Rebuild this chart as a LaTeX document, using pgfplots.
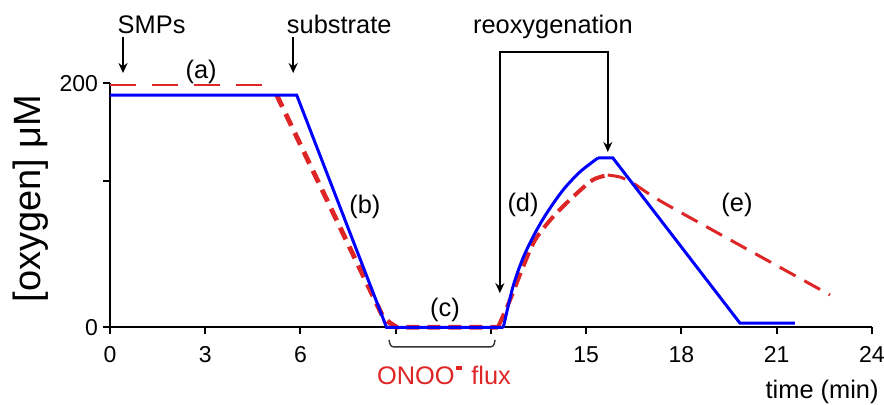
\documentclass[border=0pt]{standalone}
\usepackage{fontspec}
\setmainfont{Liberation Sans}
\usepackage{pgfplots}
\pgfplotsset{compat=1.18}
\usetikzlibrary{arrows.meta}

\definecolor{oxblue}{RGB}{0,0,255}
\definecolor{oxred}{RGB}{222,38,38}

% oxygen trace, control (solid blue): plateau, consumption, anoxia
\pgfplotstableread{
t     o2
0     190.4
5.88  190.4
8.71  0
12.39 0
}\controlfall
% control: reoxygenation and second consumption
\pgfplotstableread{
t     o2
12.39 0
12.69 33.0
13.01 56.8
13.39 77.3
13.76 93.7
14.27 112.5
14.80 127.3
15.37 138.8
}\controlrise
\pgfplotstableread{
t     o2
15.37 138.8
15.84 138.8
19.84 3.5
21.57 3.5
}\controldecay

% oxygen trace with ONOO- (dashed red), in four pieces
\pgfplotstableread{
t     o2
0     198.6
5.09  198.6
}\redbaseline
\pgfplotstableread{
t     o2
5.25  190.4
8.60  8.4
8.82  3.5
9.03  0
12.22 0
}\reddepletion
\pgfplotstableread{
t     o2
12.22 0
12.60 22.4
13.01 49.4
13.39 71.6
13.95 90.4
14.58 106.8
15.20 120.7
15.68 124.8
}\redrise
\pgfplotstableread{
t     o2
15.68 124.8
16.06 123.2
16.47 118.3
17.54 100.5
22.68 26.5
}\reddecay

\begin{document}
\begin{tikzpicture}
\begin{axis}[
  scale only axis,
  width=381pt, height=122pt,
  xmin=0, xmax=24, ymin=0, ymax=200,
  axis lines=left,
  axis line style={-, line width=1pt, black},
  xtick={0,3,6,9,12,15,18,21,24},
  xticklabels={0,3,6,,,15,18,21,24},
  ytick={0,120,200},
  yticklabels={0,,200},
  tick align=outside,
  major tick length=3.5pt,
  tick style={line width=1pt, black},
  /pgf/number format/assume math mode=true,
  ticklabel style={font=\fontsize{11.5}{13}\selectfont},
  xticklabel style={yshift=-2.5pt},
  yticklabel style={xshift=1pt},
  clip=false,
]
  \addplot[oxred, line width=0.8pt, dash pattern=on 13pt off 8pt] table[x=t, y=o2] {\redbaseline};
  \addplot[oxred, line width=2.4pt, dash pattern=on 6.5pt off 4pt] table[x=t, y=o2] {\reddepletion};
  \addplot[oxred, line width=2pt, dash pattern=on 7.5pt off 3.5pt, smooth, tension=0.5] table[x=t, y=o2] {\redrise};
  \addplot[oxred, line width=1.5pt, dash pattern=on 9pt off 5pt, smooth, tension=0.4] table[x=t, y=o2] {\reddecay};

  \addplot[oxblue, line width=1.5pt] table[x=t, y=o2] {\controlfall};
  \addplot[oxblue, line width=1.5pt, smooth, tension=0.5] table[x=t, y=o2] {\controlrise};
  \addplot[oxblue, line width=1.5pt] table[x=t, y=o2] {\controldecay};

  % event markers
  \begin{scope}[font=\fontsize{12.7}{15}\selectfont]
    \node[anchor=base] at (1.31,241.2) {SMPs};
    \draw[line width=1.1pt, -{Stealth[length=5pt, width=4.5pt]}] (0.41,237.9) -- (0.41,208.4);
    \node[anchor=base] at (7.22,241.2) {substrate};
    \draw[line width=1.1pt, -{Stealth[length=5pt, width=4.5pt]}] (5.77,237.9) -- (5.77,208.4);
    \node[anchor=base] at (13.95,241.2) {reoxygenation};
    \draw[line width=1.25pt, {Stealth[length=5pt, width=4.5pt]}-{Stealth[length=5pt, width=4.5pt]}] (12.28,28) -- (12.28,225.6) -- (15.68,225.6) -- (15.68,143.7);

    \node[anchor=base] at (2.87,204.3) {(a)};
    \node at (8.03,98.6) {(b)};
    \node at (10.55,14.2) {(c)};
    \node at (13.01,100.2) {(d)};
    \node at (19.75,100.2) {(e)};

    % ONOO- infusion interval
    \draw[line width=0.7pt, black!80, rounded corners=1.5pt] (8.79,-10.3) -- (8.84,-16.1) -- (12.08,-16.1) -- (12.13,-10.3);
    \node[text=oxred] at (10.52,-39.8) {ONOO\hspace{0.04em}\raisebox{0.6em}{\rule{0.26em}{0.13em}}\hspace{0.08em} flux};
  \end{scope}

  \node[font=\fontsize{12.7}{15}\selectfont] at (22.43,-53) {time (min)};
  \node[rotate=90, font=\fontsize{19}{22}\selectfont] at (-2.49,105.6) {[oxygen] μM};

  \coordinate (bbSW) at (-3.465,-63.7);
  \coordinate (bbNE) at (24.38,268.3);
\end{axis}
\pgfresetboundingbox
\path (bbSW) rectangle (bbNE);
\end{tikzpicture}
\end{document}
